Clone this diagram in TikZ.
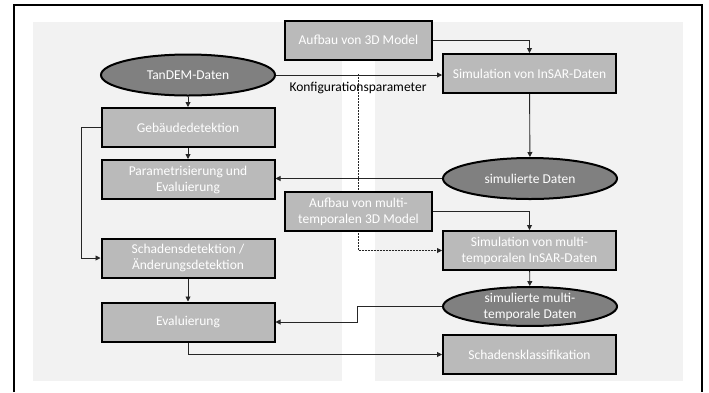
\documentclass[tikz,border=0pt]{standalone}
\usepackage{fontspec}
\setmainfont{Carlito}
\usetikzlibrary{shapes.geometric,arrows.meta}
\definecolor{panelgray}{RGB}{242,242,242}
\definecolor{boxgray}{RGB}{186,186,186}
\definecolor{ellgray}{RGB}{128,128,128}
\pgfdeclarelayer{back}
\pgfdeclarelayer{lines}
\pgfsetlayers{back,lines,main}
\begin{document}
\begin{tikzpicture}[x=1pt,y=-1pt,
  font=\fontsize{13.5}{16}\selectfont,
  procbox/.style={rectangle,draw,line width=2pt,fill=boxgray,text=white,
    minimum width=173pt,minimum height=39pt,inner sep=0pt,align=center},
  smallbox/.style={procbox,minimum width=147pt},
  databox/.style={ellipse,draw,line width=2pt,fill=ellgray,text=white,
    minimum width=174pt,minimum height=41pt,inner sep=0pt,align=center},
  conn/.style={line width=0.9pt,draw=black!85,-{Triangle[length=5pt,width=5pt]}},
  dashconn/.style={conn,dash pattern=on 2pt off 1pt}]
\useasboundingbox (0,0) rectangle (709,392);
\begin{pgfonlayer}{back}
\fill[white] (0,0) rectangle (709,392);
\fill[panelgray] (33,22) rectangle (342,381);
\fill[panelgray] (375,22) rectangle (683,381);
\draw[line width=2pt] (14,392) -- (14,5) -- (702,5) -- (702,392);
\end{pgfonlayer}
% nodes
\node[smallbox] (aufbau) at (358.5,40) {Aufbau von 3D Model};
\node[databox] (tandem) at (188,75) {TanDEM-Daten};
\node[procbox] (sim) at (529.5,73.5) {Simulation von InSAR-Daten};
\node (konf) at (358,88) {Konfigurationsparameter};
\node[procbox] (geb) at (188,127.5) {Gebäudedetektion};
\node[procbox] (param) at (188,179.5) {Parametrisierung und\\Evaluierung};
\node[databox] (simdat) at (530,178.5) {simulierte Daten};
\node[smallbox] (aufbaumt) at (358.5,211.5) {Aufbau von multi-\\temporalen 3D Model};
\node[procbox] (simmt) at (529.5,250.5) {Simulation von multi-\\temporalen InSAR-Daten};
\node[procbox] (schaden) at (188,258) {Schadensdetektion /\\Änderungsdetektion};
\node[databox,minimum height=38pt] (simdatmt) at (530,306.5) {simulierte multi-\\temporale Daten};
\node[procbox] (eval) at (188,322) {Evaluierung};
\node[procbox] (klass) at (529.5,354.5) {Schadensklassifikation};
\coordinate (split) at (358,74);
% connectors
\begin{pgfonlayer}{lines}
\draw[conn] (tandem.east) -- (sim.west |- tandem.east);
\draw[dashconn] (split) -- (split |- simmt.west) -- (simmt.west);
\draw[conn] (aufbau.east) -| (sim.north);
\draw[conn] (tandem) -- (geb);
\draw[conn] (geb) -- (param);
\draw[conn] (sim) -- (simdat);
\draw[conn] (simdat.west) -- (param.east |- simdat.west);
\draw[conn] (aufbaumt.east) -| (simmt.north);
\draw[conn] (simmt) -- (simdatmt);
\draw[conn] (geb.west) -- ++(-19,0) |- (schaden.west);
\draw[conn] (schaden) -- (eval);
\draw[conn] (simdatmt.west) -- ++(-85,0) |- (eval.east);
\draw[conn] (eval.south) |- (klass.west);
\end{pgfonlayer}
\end{tikzpicture}
\end{document}
